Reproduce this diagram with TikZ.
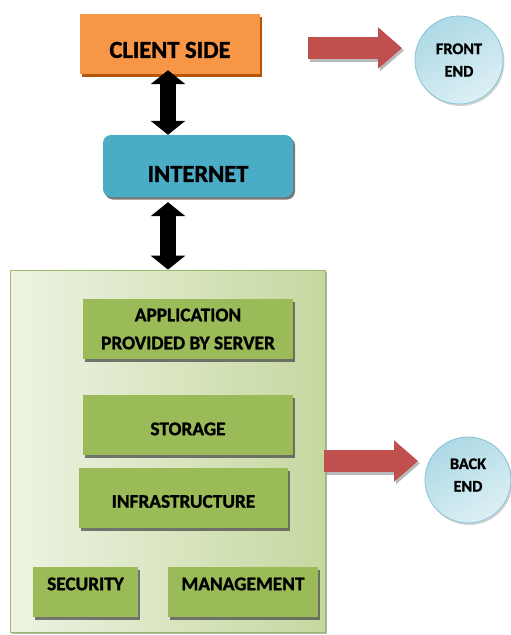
\documentclass[tikz,border=0pt]{standalone}
\usepackage{fontspec}
\setmainfont{Carlito}[BoldFeatures={FakeBold=1.3}]
\usetikzlibrary{arrows.meta,shadows}

\definecolor{clientorange}{HTML}{F79646}
\definecolor{clientedge}{HTML}{B65708}
\definecolor{netblue}{HTML}{4BACC6}
\definecolor{layergreen}{HTML}{9BBB59}
\definecolor{panellight}{HTML}{EEF3E3}
\definecolor{paneldark}{HTML}{C5D8A0}
\definecolor{paneledge}{HTML}{9DB867}
\definecolor{pointred}{HTML}{C0504D}
\definecolor{bubbletop}{HTML}{ADD9E5}
\definecolor{bubblelow}{HTML}{DDF0F5}
\definecolor{bubbleedge}{HTML}{86C3D7}

\tikzset{
  boxshadow/.style={drop shadow={shadow xshift=2pt,shadow yshift=-2.5pt,opacity=0.75,fill=black!70}},
  tier/.style={draw=none,fill=layergreen,boxshadow,align=center,
    font=\fontsize{19.3}{28}\selectfont\bfseries,inner sep=0pt},
  bubble/.style={circle,draw=bubbleedge,line width=0.8pt,top color=bubbletop,bottom color=bubblelow,
    shading angle=30,inner sep=0pt,
    drop shadow={shadow xshift=1.5pt,shadow yshift=-2pt,opacity=0.35,fill=black!50}},
  bubbletext/.style={align=center,font=\fontsize{16.2}{22.5}\selectfont\bfseries,inner sep=0pt},
  linkarrow/.style={line width=16pt,black,
    {Triangle[width=34pt,length=14pt]}-{Triangle[width=34pt,length=14pt]}},
  pointer/.style={line width=22pt,pointred,-{Triangle[width=40pt,length=24pt]}},
  pointershade/.style={line width=22pt,black!45,opacity=0.6,-{Triangle[width=40pt,length=24pt]}}
}

\begin{document}
\begin{tikzpicture}[x=1pt,y=-1pt]
\useasboundingbox (0,0) rectangle (511,635);

% front end: client and network
\node (client) [fill=clientorange,minimum width=180pt,minimum height=60pt,
  drop shadow={shadow xshift=1.5pt,shadow yshift=-3pt,opacity=1,fill=clientedge},
  font=\fontsize{24.5}{28}\selectfont\bfseries,text height=27.8pt,text depth=0pt] at (170,44) {CLIENT SIDE};

\node (internet) [fill=netblue,rounded corners=8pt,minimum width=190pt,minimum height=62pt,
  boxshadow,font=\fontsize{24.5}{28}\selectfont\bfseries,text height=31.8pt,text depth=0pt] at (198,166) {INTERNET};

% back end panel
\node (server) [draw=paneledge,line width=0.8pt,left color=panellight,right color=paneldark,
  minimum width=315pt,minimum height=362pt,
  drop shadow={shadow xshift=1.5pt,shadow yshift=-1.5pt,opacity=0.5,fill=black!60}] at (167.5,451) {};

\node (app) [tier,minimum width=210pt,minimum height=60pt] at (188,329) {APPLICATION\\PROVIDED BY SERVER};
\node (storage) [tier,minimum width=210pt,minimum height=60pt,text height=20.4pt,text depth=0pt] at (188,425) {STORAGE};
\node (infra) [tier,minimum width=209pt,minimum height=60pt,text height=19.4pt,text depth=0pt] at (183.5,498) {INFRASTRUCTURE};
\node (security) [tier,minimum width=105pt,minimum height=50pt,text height=12.4pt,text depth=16pt] at (85.5,592) {SECURITY};
\node (management) [tier,minimum width=150pt,minimum height=50pt,text height=12.4pt,text depth=16pt] at (243,592) {MANAGEMENT};

% side labels
\node (front) [bubble,minimum size=88pt,label={[bubbletext]center:FRONT\\END}] at (459,60) {};
\node (back) [bubble,minimum size=86pt,label={[bubbletext,yshift=5pt]center:BACK\\END}] at (468,480) {};

% two-way links
\draw[linkarrow] ([xshift=-2pt,yshift=4pt]client.south) -- ([xshift=-30pt]internet.north);
\draw[linkarrow] ([xshift=-30pt,yshift=-5pt]internet.south) -- ([xshift=0.5pt]server.north);

% pointers to the labels
\coordinate (fstart) at (308,48);
\coordinate (fend) at (402,48);
\coordinate (bstart) at (324,461);
\coordinate (bend) at (418,461);
\draw[pointershade] ([xshift=2pt,yshift=-2.5pt]fstart) -- ([xshift=2pt,yshift=-2.5pt]fend);
\draw[pointer] (fstart) -- (fend);
\draw[pointershade] ([xshift=2pt,yshift=-2.5pt]bstart) -- ([xshift=2pt,yshift=-2.5pt]bend);
\draw[pointer] (bstart) -- (bend);
\end{tikzpicture}
\end{document}
